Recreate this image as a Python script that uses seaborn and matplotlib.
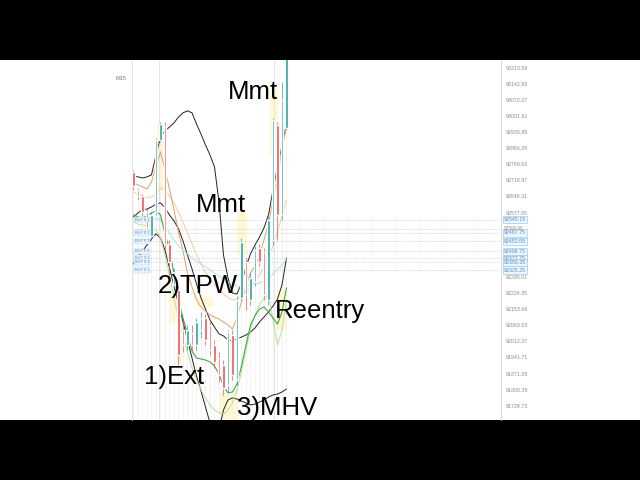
import numpy as np
import pandas as pd
import matplotlib
matplotlib.use('Agg')
import matplotlib.pyplot as plt
import matplotlib.transforms as mtransforms
import seaborn as sns

sns.set_theme(style='white')
plt.rcParams['font.family'] = ['Liberation Sans', 'DejaVu Sans']

# M15 candles, oldest first
opens = [92756, 92677, 92650, 92580, 92475, 92580, 92896, 92958, 92440, 92260,
         92238, 92062, 91996, 92049, 91996, 92062, 92115, 92084, 91996, 91939,
         91908, 91821, 92040, 91843, 92203, 92361, 92194, 92273, 92422, 92405,
         92194, 92457, 92962, 92567, 92949]
closes = [92694, 92650, 92580, 92510, 92567, 92896, 92966, 92440, 92361, 92317,
          91952, 91996, 92062, 91996, 92097, 92115, 92018, 91974, 91922, 91865,
          91808, 92053, 91865, 92194, 92448, 92216, 92290, 92413, 92361, 92216,
          92545, 92984, 92567, 93072, 93269]
highs = [92764, 92685, 92659, 92598, 92580, 92905, 92975, 92975, 92457, 92334,
         92260, 92106, 92084, 92084, 92115, 92141, 92132, 92106, 92018, 91965,
         91930, 92062, 92062, 92211, 92466, 92378, 92317, 92431, 92440, 92422,
         92567, 92993, 92975, 93151, 93291]
lows = [92677, 92633, 92563, 92492, 92457, 92567, 92887, 92413, 92304, 92238,
        91908, 91965, 91974, 91965, 91974, 92027, 91996, 91952, 91895, 91834,
        91777, 91790, 91843, 91821, 92194, 92150, 92172, 92255, 92343, 92194,
        92172, 92435, 92457, 92545, 92940]

# indicator lines
upper_band = [92738, 92734, 92729, 92734, 92743, 92830, 92909, 92936, 92953, 92971,
              92997, 93015, 93024, 93015, 92966, 92922, 92874, 92830, 92778, 92624,
              92391, 92290, 92224, 92220, 92268, 92339, 92396, 92435, 92470, 92510,
              92567, 92677, 92778, 92870, 92966]
mid_band = [92558, 92576, 92589, 92593, 92602, 92615, 92620, 92598, 92567, 92541,
            92506, 92453, 92391, 92330, 92264, 92203, 92154, 92106, 92075, 92045,
            92036, 92018, 92014, 92023, 92031, 92040, 92053, 92071, 92097, 92119,
            92141, 92167, 92198, 92260, 92378]
lower_band = [92352, 92383, 92409, 92435, 92462, 92484, 92466, 92413, 92334, 92255,
              92176, 92097, 92018, 91939, 91860, 91794, 91724, 91654, 91623, 91623,
              91711, 91755, 91764, 91759, 91750, 91742, 91733, 91737, 91746, 91755,
              91768, 91777, 91781, 91790, 91803]
ema_fast = [92707, 92699, 92690, 92681, 92712, 92782, 92844, 92765, 92681, 92589,
            92492, 92409, 92312, 92251, 92194, 92163, 92145, 92128, 92119, 92110,
            92097, 92084, 92066, 92119, 92185, 92255, 92312, 92343, 92391, 92457,
            92527, 92633, 92738, 92852, 92958]
ema_slow = [92668, 92659, 92650, 92642, 92646, 92659, 92685, 92677, 92650, 92620,
            92580, 92536, 92488, 92440, 92391, 92352, 92317, 92286, 92260, 92238,
            92220, 92203, 92194, 92198, 92211, 92229, 92251, 92277, 92304, 92339,
            92378, 92431, 92492, 92563, 92633]
green_line = [92567, 92558, 92554, 92563, 92576, 92585, 92567, 92484, 92418, 92308,
              92194, 92115, 92045, 91970, 91939, 91935, 91930, 91922, 91904, 91869,
              91816, 91786, 91790, 91825, 91904, 91996, 92084, 92124, 92154, 92163,
              92141, 92115, 92088, 92141, 92247]
light_green = [92536, 92527, 92523, 92519, 92510, 92501, 92466, 92391, 92304, 92203,
               92115, 92036, 91966, 91895, 91843, 91799, 91764, 91733, 91711, 91698,
               91693, 91711, 91742, 91799, 91878, 91974, 92062, 92128, 92172, 92203,
               92216, 92106, 91996, 92062, 92194]
cyan_line = [92567, 92554, 92541, 92541, 92549, 92554, 92545, 92519, 92488, 92457,
             92431, 92413, 92396, 92378, 92365, 92352, 92339, 92326, 92312, 92299,
             92286, 92273, 92264, 92255, 92251, 92255, 92260, 92264, 92268, 92277,
             92286, 92308, 92330, 92347, 92374]

price_ticks = [93213.59, 93142.93, 93072.27, 93001.61, 92930.95, 92860.29, 92789.63,
               92718.97, 92648.31, 92577.65, 92295.01, 92224.35, 92153.69, 92083.03,
               92012.37, 91941.71, 91871.05, 91800.39, 91729.73]
order_levels = [92545.15, 92487.75, 92452.05, 92406.75, 92377.75, 92359.35, 92325.25]
minor_levels = [92506.99]

# highlight zones: (first candle, last candle, low, high)
zones = [(5.2, 6.6, 92655, 92975), (8.1, 9.7, 92093, 92238), (9.7, 10.8, 91917, 92062),
         (14.1, 17.7, 92163, 92207), (19.2, 23.0, 91667, 91786), (23.0, 25.2, 92391, 92580),
         (30.3, 32.1, 92830, 93124), (31.9, 34.1, 92062, 92238)]
session_breaks = [5.7, 31.3]

notes = [('Mmt', 26.6, 93107), ('Mmt', 19.4, 92611), ('2)TPW', 14.2, 92255),
         ('Reentry', 41.4, 92145), ('1)Ext', 9.0, 91856), ('3)MHV', 31.9, 91720)]

df = pd.DataFrame({'open': opens, 'close': closes, 'high': highs, 'low': lows})
df['bar'] = np.arange(len(df))
up = df['close'] >= df['open']
col = np.where(up, '#26a69a', '#ef5350')

fig = plt.figure(figsize=(6.4, 4.8), dpi=100, facecolor='black')
bg = fig.add_axes([0, 0.125, 1, 0.75])
bg.set_facecolor('white')
bg.set_xticks([])
bg.set_yticks([])
for s in bg.spines.values():
    s.set_visible(False)

ax = fig.add_axes([132 / 640, 0.125, 369 / 640, 0.75])
ax.set_facecolor('none')
ax.set_xlim(-0.333, 81.67)
ax.set_ylim(91667, 93247)

for x0, x1, lo, hi in zones:
    ax.fill_between([x0, x1], lo, hi, color='#fff4b0', alpha=0.55, lw=0, zorder=0)
for xb in session_breaks:
    ax.axvline(xb, color='#e2e2e2', lw=0.6, zorder=0)

# faint lines under the candles
ax.vlines(df['bar'], 91667, df['low'], colors='#f6f0f0', lw=0.6, zorder=0)

for lvl in order_levels + minor_levels:
    ax.axhline(lvl, color='#c9c9c9', lw=0.6, ls=(0, (1, 1.5)), zorder=1)

ax.vlines(df['bar'], df['low'], df['high'], colors=col, lw=0.5, zorder=3)
ax.bar(df['bar'], (df['close'] - df['open']).abs().clip(lower=4),
       bottom=df[['open', 'close']].min(axis=1), width=0.6, color=col, zorder=3)

lines = [(lower_band, '#222222', 0.7), (mid_band, '#222222', 0.7), (upper_band, '#222222', 0.7),
         (ema_slow, '#f6c9a0', 0.7), (ema_fast, '#e0a060', 0.7), (cyan_line, '#a6e3ea', 0.7),
         (light_green, '#b5e39a', 0.7), (green_line, '#43a843', 0.8)]
for vals, c, w in lines:
    sns.lineplot(x=df['bar'], y=vals, ax=ax, color=c, lw=w, legend=False, zorder=2)

for txt, x, y in notes:
    ax.text(x, y, txt, fontsize=18.5, color='black', ha='center', va='center',
            zorder=5, clip_on=False)

# small buy tags on the left
for lvl in order_levels:
    ax.text(0.3, lvl, 'BUY 0.1', fontsize=2.8, color='#4a8ad4', va='center', ha='left',
            bbox=dict(boxstyle='square,pad=0.15', fc='#eef5fc', ec='#a8cdee', lw=0.3), zorder=4)

ax.yaxis.tick_right()
ax.set_yticks(price_ticks)
ax.set_yticklabels([f'{p:.2f}' for p in price_ticks])
ax.tick_params(axis='y', labelsize=3.8, colors='#8c8c8c', length=0, pad=3.5)
ax.set_xticks([])
ax.set_xlabel('')
ax.set_ylabel('')
for side in ['top', 'bottom']:
    ax.spines[side].set_visible(False)
ax.spines['left'].set_color('#e4e4e4')
ax.spines['right'].set_color('#d4d4d4')
ax.spines['left'].set_linewidth(0.6)
ax.spines['right'].set_linewidth(0.6)

tr = mtransforms.blended_transform_factory(ax.transAxes, ax.transData)
for lvl in order_levels:
    ax.text(1.0075, lvl, f'{lvl:.2f}', transform=tr, fontsize=3.8, color='#4f8fd0',
            va='center', ha='left', clip_on=False,
            bbox=dict(boxstyle='square,pad=0.2', fc='#eef5fc', ec='#8fbde6', lw=0.4))
for lvl in minor_levels:
    ax.text(1.0075, lvl, f'{lvl:.2f}', transform=tr, fontsize=3.3, color='#8c8c8c',
            va='center', ha='left', clip_on=False)

fig.text(121 / 640, 1 - 78 / 480, 'M15', fontsize=4, color='#777777', ha='center', va='center')

fig.savefig('out.png', dpi=100, facecolor='black')
